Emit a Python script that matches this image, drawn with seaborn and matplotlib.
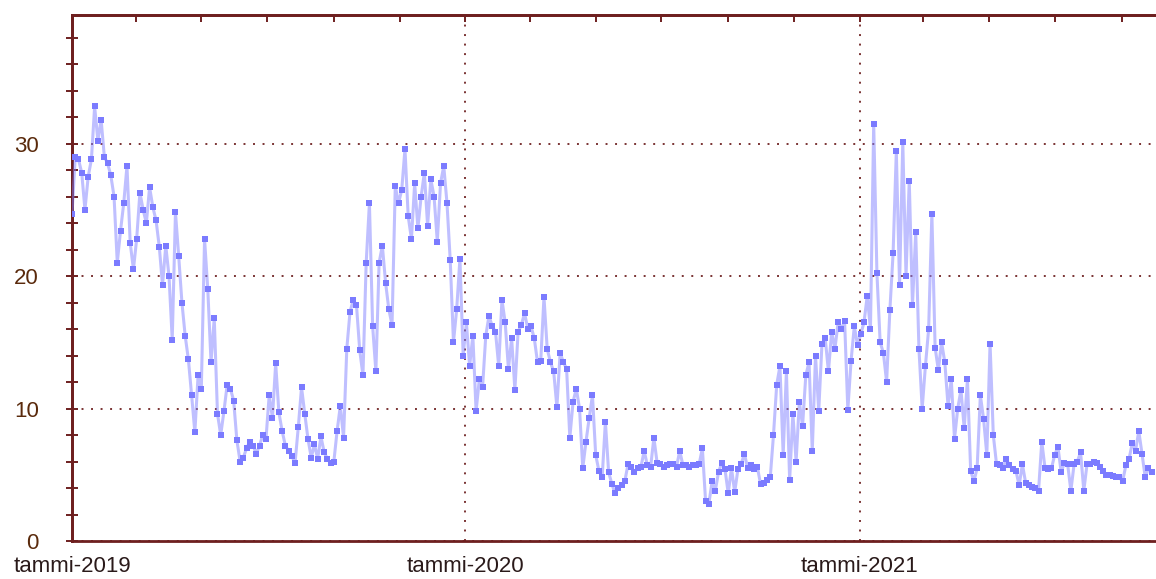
import numpy as np
import pandas as pd
import matplotlib
matplotlib.use("Agg")
import matplotlib.pyplot as plt
import matplotlib.dates as mdates
from matplotlib.ticker import MultipleLocator, FuncFormatter
import seaborn as sns

# Readings every third day, starting 1 Jan 2019
vals_2019a = [24.7, 29.0, 28.8, 27.8, 25.0, 27.5, 28.8, 32.8, 30.2, 31.8,
              29.0, 28.5, 27.6, 26.0, 21.0, 23.4, 25.5, 28.3, 22.5, 20.5,
              22.8, 26.3, 25.0, 24.0, 26.7, 25.2, 24.2, 22.2, 19.3, 22.3,
              20.0, 15.2, 24.8, 21.5, 18.0, 15.5, 13.7, 11.0, 8.2, 12.5,
              11.5, 22.8, 19.0, 13.5, 16.8, 9.6, 8.0, 9.8, 11.8, 11.5,
              10.6, 7.6, 6.0, 6.3, 7.0, 7.5, 7.2]
vals_2019b = [6.6, 7.2, 8.0, 7.7, 11.0, 9.3, 13.4, 9.7, 8.3, 7.2,
              6.8, 6.4, 5.9, 8.6, 11.6, 9.6, 7.7, 6.3, 7.3, 6.2,
              7.9, 6.7, 6.2, 5.9, 6.0, 8.3, 10.2, 7.8, 14.5, 17.3,
              18.2, 17.8, 14.4, 12.5, 21.0, 25.5, 16.2, 12.8, 21.0, 22.3,
              19.5, 17.5, 16.3, 26.8, 25.5, 26.5, 29.6, 24.5, 22.8, 27.0,
              23.6, 26.0, 27.8, 23.8, 27.3]
vals_2020a = [26.0, 22.6, 27.0, 28.3, 25.5, 21.2, 15.0, 17.5, 21.3, 14.0,
              16.5, 13.2, 15.5, 9.8, 12.2, 11.6, 15.5, 17.0, 16.2, 15.8,
              13.2, 18.2, 16.5, 13.0, 15.3, 11.4, 15.8, 16.3, 17.2, 16.0,
              16.2, 15.3, 13.5, 13.6, 18.4, 14.5, 13.5, 12.8, 10.1, 14.2,
              13.5, 13.0, 7.8, 10.5, 11.5, 10.0, 5.5, 7.5, 9.3, 11.0,
              6.5, 5.3, 4.8, 9.0, 5.2, 4.3, 3.6]
vals_2020b = [4.0, 4.2, 4.5, 5.8, 5.6, 5.2, 5.5, 5.6, 6.8, 5.7,
              5.6, 7.8, 5.9, 5.8, 5.6, 5.7, 5.8, 5.8, 5.6, 6.8,
              5.7, 5.7, 5.6, 5.7, 5.7, 5.8, 7.0, 3.0, 2.8, 4.5,
              3.8, 5.2, 5.9, 5.4, 3.6, 5.5, 3.7, 5.4, 5.8, 6.6,
              5.5, 5.7, 5.4, 5.6, 4.3, 4.4, 4.6, 4.8, 8.0, 11.8,
              13.2, 6.5, 12.8, 4.6, 9.6]
vals_2021a = [6.0, 10.5, 8.7, 12.5, 13.5, 6.8, 14.0, 9.8, 14.9, 15.3,
              12.8, 15.8, 14.5, 16.5, 16.0, 16.6, 9.9, 13.6, 16.2, 14.8,
              15.6, 16.5, 18.5, 16.0, 31.5, 20.2, 15.0, 14.2, 12.0, 17.4,
              21.7, 29.4, 19.3, 30.1, 20.0, 27.2, 17.8, 23.3, 14.5, 10.0,
              13.2, 16.0, 24.7, 14.6, 12.9, 15.0, 13.5, 10.2, 12.2, 7.7,
              10.0, 11.4, 8.5, 12.2, 5.3, 4.5, 5.5]
vals_2021b = [11.0, 9.2, 6.5, 14.9, 8.0, 5.8, 5.7, 5.5, 6.2, 5.7,
              5.4, 5.3, 4.2, 5.8, 4.4, 4.2, 4.1, 4.0, 3.8, 7.5,
              5.5, 5.4, 5.5, 6.5, 7.1, 5.2, 5.9, 5.8, 3.8, 5.8,
              6.0, 6.7, 3.8, 5.8, 5.8, 6.0, 5.9, 5.6, 5.3, 5.0,
              5.0, 4.9, 4.8, 4.8, 4.5, 5.7, 6.2, 7.4, 6.8, 8.3,
              6.6, 4.8, 5.5, 5.2]

values = vals_2019a + vals_2019b + vals_2020a + vals_2020b + vals_2021a + vals_2021b
dates = pd.date_range("2019-01-01", periods=len(values), freq="3D")
df = pd.DataFrame({"date": dates, "value": values})

year_labels = ["tammi-2019", "tammi-2020", "tammi-2021"]

sns.set_style("white")
plt.rcParams["font.family"] = ["Liberation Sans", "DejaVu Sans"]

axis_col = "#6e1f1f"
grid_col = "#7a3333"
line_col = "#8080ff"

fig = plt.figure(figsize=(11.56, 5.79), dpi=100)
ax = fig.add_axes([0.0623, 0.0656, 0.9377, 0.9085])

sns.lineplot(data=df, x="date", y="value", ax=ax, color=line_col,
             alpha=0.5, linewidth=2.2, zorder=3)
sns.scatterplot(data=df, x="date", y="value", ax=ax, color="#7b7bff",
                marker="s", s=19, linewidth=0, zorder=4)

ax.set_xlim(pd.Timestamp("2019-01-01"), pd.Timestamp("2019-01-01") + pd.Timedelta(days=1006))
ax.set_ylim(0, 39.7)
ax.set_xlabel("")
ax.set_ylabel("")

# spines
for side in ("left", "bottom", "top"):
    ax.spines[side].set_color(axis_col)
    ax.spines[side].set_linewidth(2)
ax.spines["right"].set_visible(False)

# x axis: yearly labels, ticks every second month
ax.xaxis.set_major_locator(mdates.YearLocator())
ax.xaxis.set_major_formatter(FuncFormatter(
    lambda v, p: year_labels[mdates.num2date(v).year - 2019]
    if 0 <= mdates.num2date(v).year - 2019 < len(year_labels) else ""))
ax.xaxis.set_minor_locator(mdates.MonthLocator(bymonth=[3, 5, 7, 9, 11]))
ax.tick_params(axis="x", which="major", direction="inout", length=14, width=1.6,
               color=axis_col, labelsize=16, labelcolor="#2a1a1a", pad=4)
ax.tick_params(axis="x", which="minor", direction="inout", length=10, width=1.4,
               color=axis_col)

# y axis: labels every 10, ticks every 1
ax.yaxis.set_major_locator(MultipleLocator(10))
ax.yaxis.set_minor_locator(MultipleLocator(1))
ax.tick_params(axis="y", which="major", direction="out", length=10, width=1.6,
               color=axis_col, labelsize=16, labelcolor="#5a2a0c", pad=14)
ax.tick_params(axis="y", which="minor", direction="in", length=3, width=1.2,
               color=axis_col)

# secondary scales carry the mid-size ticks
sec_y = ax.secondary_yaxis("left")
sec_y.yaxis.set_major_locator(MultipleLocator(2))
sec_y.yaxis.set_major_formatter(FuncFormatter(lambda v, p: ""))
sec_y.tick_params(axis="y", direction="inout", length=8, width=1.4, color=axis_col)
sec_y.spines["left"].set_color(axis_col)
sec_y.spines["left"].set_linewidth(2)

sec_x = ax.secondary_xaxis("top")
sec_x.xaxis.set_major_locator(mdates.MonthLocator(bymonth=[1, 3, 5, 7, 9, 11]))
sec_x.xaxis.set_major_formatter(FuncFormatter(lambda v, p: ""))
sec_x.tick_params(axis="x", direction="in", length=5, width=1.4, color=axis_col)
sec_x.spines["top"].set_color(axis_col)
sec_x.spines["top"].set_linewidth(2)

# dotted reference grid
ax.grid(True, which="major", axis="both", color=grid_col,
        linestyle=(0, (1, 3.9)), linewidth=1.4)
ax.set_axisbelow(True)

fig.savefig("out.png", dpi=100, facecolor="white")
